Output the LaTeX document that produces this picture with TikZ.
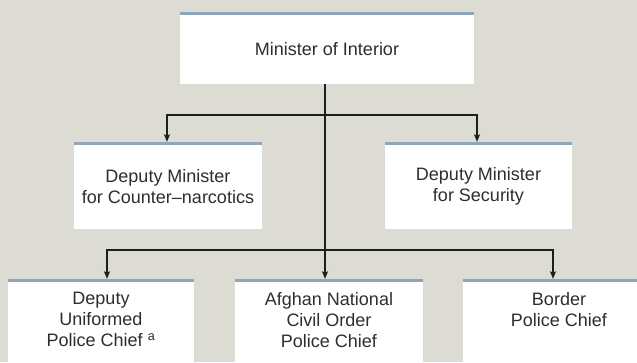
\documentclass[tikz,border=0pt]{standalone}
\usepackage{fontspec}
\setmainfont{Liberation Sans}
\usetikzlibrary{arrows.meta}
\definecolor{bgc}{HTML}{DCDCD4}
\definecolor{barc}{HTML}{8DA6BB}
\definecolor{txtc}{HTML}{2E2E2E}
\definecolor{linec}{HTML}{1E1E1E}
\begin{document}
\begin{tikzpicture}[x=1pt,y=-1pt,
  box/.style={rectangle, fill=white, inner sep=0pt, draw=none},
  lbl/.style={inner sep=0pt, align=center, text=txtc, font=\fontsize{18}{21}\selectfont},
  conn/.style={draw=linec, line width=1.1pt},
  arr/.style={conn, -{Stealth[length=7.5pt,width=6pt,inset=1.5pt]}}]
\clip (0,0) rectangle (637,362);
\fill[bgc] (0,0) rectangle (637,362);
% boxes
\node[box, minimum width=294pt, minimum height=72pt] (top) at (327,48) {};
\node[box, minimum width=188pt, minimum height=87pt] (b2) at (168,185.5) {};
\node[box, minimum width=187pt, minimum height=87pt] (b3) at (478.5,185.5) {};
\node[box, minimum width=186pt, minimum height=91pt] (b4) at (101,324.5) {};
\node[box, minimum width=188pt, minimum height=91pt] (b5) at (329,324.5) {};
\node[box, minimum width=192pt, minimum height=91pt] (b6) at (559,324.5) {};
% top bars
\foreach \n in {top,b2,b3,b4,b5,b6}{
  \fill[barc] (\n.north west) rectangle ([yshift=-3pt]\n.north east);
}
% labels
\node[lbl] (ttop) at ([yshift=-1pt]top.center) {Minister of Interior};
\node[lbl] (t2) at ([yshift=-1pt]b2.center) {Deputy Minister\\for Counter–narcotics};
\node[lbl] (t3) at ([yshift=-1pt]b3.center) {Deputy Minister\\for Security};
\node[lbl, anchor=north] (t4) at ([yshift=-13pt]b4.north) {Deputy\\Uniformed\\Police Chief \textsuperscript{a}};
\node[lbl, anchor=north] (t5) at ([yshift=-13pt]b5.north) {Afghan National\\Civil Order\\Police Chief};
\node[lbl, anchor=north] (t6) at ([yshift=-13pt]b6.north) {Border\\Police Chief};
% junction coordinates
\coordinate (j1) at (325,115);
\coordinate (j2) at (325,250);
\coordinate (a2) at (167,115);
\coordinate (a3) at (477,115);
\coordinate (a4) at (107,250);
\coordinate (a6) at (553,250);
% connectors
\draw[arr] (top.south -| j1) -- (b5.north -| j1);
\draw[arr] (j1) -- (a2) -- (b2.north -| a2);
\draw[arr] (j1) -- (a3) -- (b3.north -| a3);
\draw[arr] (j2) -- (a4) -- (b4.north -| a4);
\draw[arr] (j2) -- (a6) -- (b6.north -| a6);
\end{tikzpicture}
\end{document}
